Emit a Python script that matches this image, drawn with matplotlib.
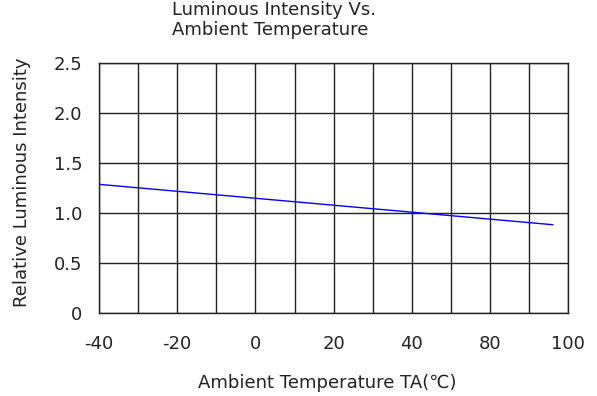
import matplotlib
matplotlib.use('Agg')
import matplotlib.pyplot as plt

# axis is drawn on a uniform 10-per-column grid; the printed labels skip 60
grid_x = [-40, -30, -20, -10, 0, 10, 20, 30, 40, 50, 60, 70, 80]
tick_pos = [-40, -20, 0, 20, 40, 60, 80]
tick_labels = ['-40', '-20', '0', '20', '40', '80', '100']
y_ticks = [0, 0.5, 1.0, 1.5, 2.0, 2.5]
y_labels = ['0', '0.5', '1.0', '1.5', '2.0', '2.5']

# curve (straight line)
temp = [-40, 76]
intensity = [1.287, 0.882]

fig = plt.figure(figsize=(5.97, 3.96), dpi=100)
ax = fig.add_axes([0.1658, 0.2104, 0.7862, 0.6296])

txt = '#222222'
for gx in grid_x:
    ax.axvline(gx, color='#222222', lw=1.0, zorder=1)
for gy in y_ticks:
    ax.axhline(gy, color='#222222', lw=1.0, zorder=1)

ax.plot(temp, intensity, color='#0000ff', lw=1.0, zorder=3)

ax.set_xlim(-40, 80)
ax.set_ylim(0, 2.5)
ax.set_xticks(tick_pos)
ax.set_xticklabels(tick_labels)
ax.set_yticks(y_ticks)
ax.set_yticklabels(y_labels)
ax.tick_params(length=0, labelsize=13, labelcolor=txt)
ax.tick_params(axis='x', pad=16)
ax.tick_params(axis='y', pad=12)
for s in ax.spines.values():
    s.set_color('#222222')
    s.set_linewidth(1.0)

fig.text(0.288, 0.997, 'Luminous Intensity Vs.\nAmbient Temperature',
         ha='left', va='top', fontsize=13, color=txt, linespacing=1.15)
fig.text(0.548, 0.033, 'Ambient Temperature TA(\u2103)', ha='center', va='center',
         fontsize=13, color=txt)
fig.text(0.037, 0.54, 'Relative Luminous Intensity', ha='center', va='center',
         rotation=90, fontsize=13, color=txt)

fig.savefig('out.png', dpi=100)
